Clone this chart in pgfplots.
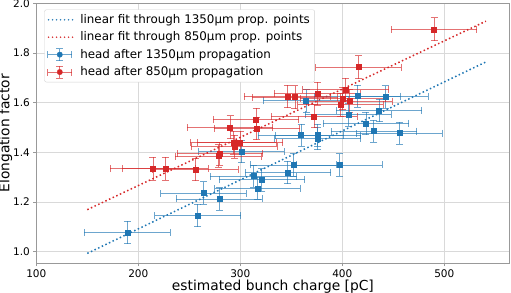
\documentclass[border=0pt]{standalone}
\usepackage{pgfplots}
\pgfplotsset{compat=1.18}
\usepackage{fontspec}
\setmainfont{DejaVu Sans}
\definecolor{tabblue}{HTML}{1F77B4}
\definecolor{tabred}{HTML}{D62728}
\pgfplotstableread{
x y ex ey
489.9 1.895 42 0.046
416.0 1.743 42 0.046
346.1 1.625 42 0.046
353.6 1.622 42 0.046
375.5 1.636 42 0.046
403.3 1.653 42 0.046
400.6 1.617 42 0.046
398.3 1.592 42 0.046
407.0 1.606 42 0.046
372.4 1.545 42 0.046
315.4 1.532 42 0.046
316.3 1.496 42 0.046
289.9 1.501 42 0.046
293.1 1.439 42 0.046
299.7 1.439 42 0.046
294.1 1.423 42 0.046
280.0 1.395 42 0.046
278.4 1.385 42 0.046
256.2 1.331 42 0.046
226.5 1.334 42 0.046
214.4 1.334 42 0.046
}\reddata
\pgfplotstableread{
x y ex ey
189.2 1.077 42 0.045
258.2 1.145 42 0.045
264.0 1.236 42 0.045
279.4 1.212 42 0.045
317.0 1.255 42 0.045
312.7 1.304 42 0.045
321.2 1.289 42 0.045
346.7 1.318 42 0.045
352.0 1.349 42 0.045
397.0 1.349 42 0.045
301.3 1.403 42 0.045
359.5 1.469 42 0.045
376.1 1.469 42 0.045
375.8 1.455 42 0.045
364.4 1.607 42 0.045
414.7 1.626 42 0.045
442.2 1.623 42 0.045
405.9 1.551 42 0.045
436.0 1.569 42 0.045
423.2 1.516 42 0.045
431.0 1.485 42 0.045
455.9 1.477 42 0.045
}\bluedata
\pgfplotsset{
  ebarlegend/.style={
    legend image code/.code={
      \draw[#1, opacity=0.65, line width=0.9bp, solid] (0bp,0bp) -- (24bp,0bp);
      \draw[#1, opacity=0.65, line width=0.9bp, solid] (0bp,-3.5bp) -- (0bp,3.5bp);
      \draw[#1, opacity=0.65, line width=0.9bp, solid] (24bp,-3.5bp) -- (24bp,3.5bp);
      \draw[#1, opacity=0.65, line width=0.9bp, solid] (12bp,-6bp) -- (12bp,6bp);
      \draw[#1, opacity=0.65, line width=0.9bp, solid] (8.5bp,-6bp) -- (15.5bp,-6bp);
      \draw[#1, opacity=0.65, line width=0.9bp, solid] (8.5bp,6bp) -- (15.5bp,6bp);
      \fill[#1, opacity=1] (9.5bp,-2.5bp) rectangle (14.5bp,2.5bp);
    }
  },
  fitlegend/.style={
    legend image code/.code={
      \fill[#1, draw=none, opacity=1] (0.75bp,0bp) circle[radius=0.8bp] (4.75bp,0bp) circle[radius=0.8bp]
        (8.75bp,0bp) circle[radius=0.8bp] (12.75bp,0bp) circle[radius=0.8bp] (16.75bp,0bp) circle[radius=0.8bp]
        (20.75bp,0bp) circle[radius=0.8bp] (24.75bp,0bp) circle[radius=0.8bp];
    }
  }
}
\begin{document}
\begin{tikzpicture}
\begin{axis}[
  scale only axis, width=473.2bp, height=260bp,
  xmin=100, xmax=563.9, ymin=0.953, ymax=2.0,
  xtick={100,200,300,400,500},
  ytick={1.0,1.2,1.4,1.6,1.8,2.0},
  yticklabel style={/pgf/number format/fixed, /pgf/number format/fixed zerofill, /pgf/number format/precision=1},
  /pgf/number format/assume math mode=true,
  ticklabel style={font=\fontsize{10.5bp}{12bp}\selectfont},
  tick align=outside, major tick length=3bp,
  tick style={gray!80, line width=0.8bp},
  axis line style={gray!80, line width=0.8bp},
  xtick pos=bottom, ytick pos=left,
  grid=major, major grid style={gray!30, line width=0.8bp},
  xlabel={estimated bunch charge [pC]},
  ylabel={Elongation factor},
  label style={font=\fontsize{13.8bp}{16bp}\selectfont},
  xlabel style={yshift=5bp},
  ylabel style={yshift=-6bp},
  legend style={at={(0.017,0.976)}, anchor=north west, draw=gray!35, rounded corners=2bp,
    font=\fontsize{11.9bp}{14bp}\selectfont, row sep=2.9bp, column sep=5bp, inner sep=2.8bp, fill=white},
  legend cell align=left,
]
\addplot[color=tabblue, line width=1.5bp, dash pattern=on 1.5bp off 2.5bp, fitlegend=tabblue] coordinates {(150,0.993) (540.8,1.764)};
\addlegendentry{linear fit through 1350µm prop. points}
\addplot[color=tabred, line width=1.5bp, dash pattern=on 1.5bp off 2.5bp, fitlegend=tabred] coordinates {(150,1.169) (540.8,1.928)};
\addlegendentry{linear fit through 850µm prop. points}
\addplot[only marks, mark=square*, mark size=2.5bp, color=tabblue, ebarlegend=tabblue,
  error bars/.cd, x dir=both, y dir=both, x explicit, y explicit,
  error bar style={tabblue, opacity=0.65, line width=0.9bp},
  error mark options={tabblue, opacity=0.65, line width=0.9bp, mark size=3.5bp, rotate=90}]
  table[x=x, y=y, x error=ex, y error=ey] {\bluedata};
\addlegendentry{head after 1350µm propagation}
\addplot[only marks, mark=square*, mark size=2.5bp, color=tabred, ebarlegend=tabred,
  error bars/.cd, x dir=both, y dir=both, x explicit, y explicit,
  error bar style={tabred, opacity=0.65, line width=0.9bp},
  error mark options={tabred, opacity=0.65, line width=0.9bp, mark size=3.5bp, rotate=90}]
  table[x=x, y=y, x error=ex, y error=ey] {\reddata};
\addlegendentry{head after 850µm propagation}
\end{axis}
\pgfresetboundingbox
\path (current axis.south west) ++(-36.3bp,-29.7bp) coordinate (bl);
\path (current axis.north east) ++(1.5bp,3.3bp) coordinate (tr);
\path[use as bounding box] (bl) rectangle (tr);
\end{tikzpicture}
\end{document}
